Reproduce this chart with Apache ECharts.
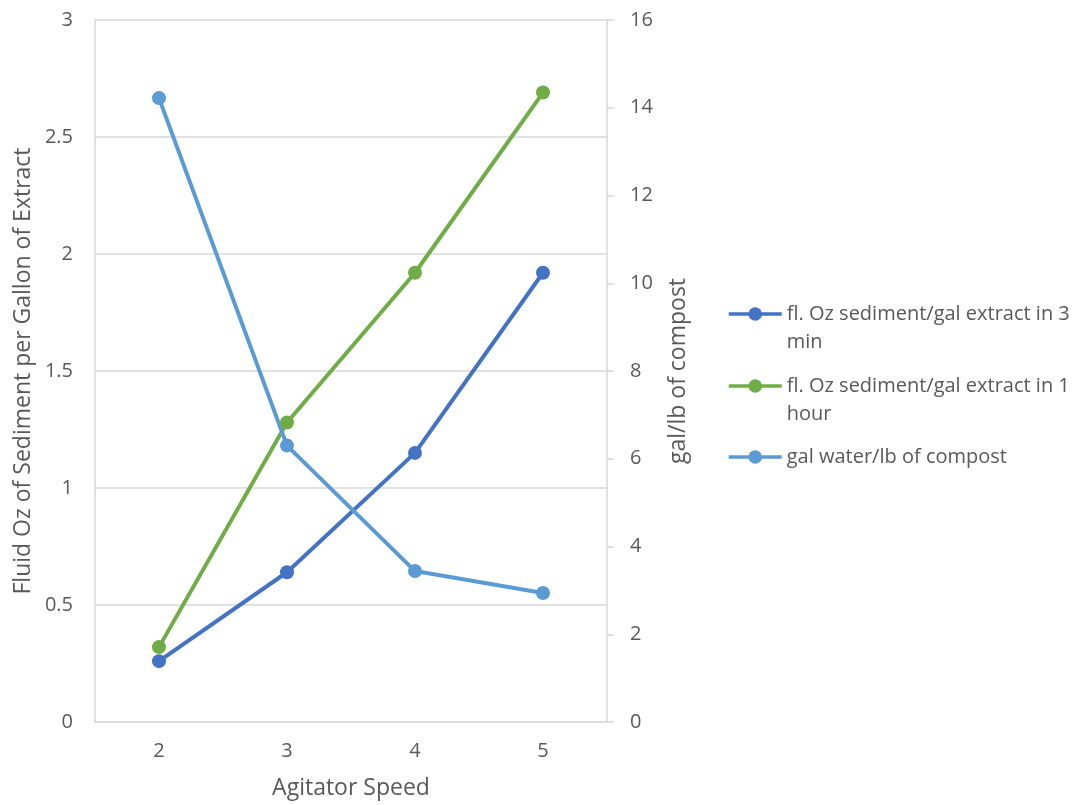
<!DOCTYPE html>
<html>
<head>
<meta charset="utf-8">
<script src="https://cdn.jsdelivr.net/npm/echarts@6/dist/echarts.min.js"></script>
<style>
html,body{margin:0;padding:0;background:#fff;}
#chart{width:1080px;height:805px;}
</style>
</head>
<body>
<div id="chart"></div>
<script>
const categories = ['2', '3', '4', '5'];
const sediment3min = [0.26, 0.64, 1.15, 1.92];
const sediment1hour = [0.32, 1.28, 1.92, 2.69];
const galWaterPerLb = [14.22, 6.30, 3.44, 2.94];
const seriesNames = [
  'fl. Oz sediment/gal extract in 3 min',
  'fl. Oz sediment/gal extract in 1 hour',
  'gal water/lb of compost'
];
const legendLabels = [
  '\nfl. Oz sediment/gal extract in 3\nmin',
  '\nfl. Oz sediment/gal extract in 1\nhour',
  '\ngal water/lb of compost\n'
];
const colors = ['#4472C4', '#70AD47', '#5B9BD5'];
const FONT = 'Open Sans';
const TXT = '#595959';
const GRID = '#d9d9d9';

const chart = echarts.init(document.getElementById('chart'), null, {renderer: 'canvas'});

function makeLegend(i, top) {
  return {
    data: [seriesNames[i]],
    left: 727,
    top: top,
    orient: 'vertical',
    itemWidth: 53,
    itemHeight: 17,
    itemGap: 0,
    padding: 0,
    lineStyle: {width: 3.5},
    formatter: () => legendLabels[i],
    textStyle: {fontFamily: FONT, fontSize: 20, color: TXT, lineHeight: 28}
  };
}

function lineSeries(i, data, yIdx) {
  return {
    name: seriesNames[i],
    type: 'line',
    yAxisIndex: yIdx,
    data: data,
    symbol: 'circle',
    symbolSize: 14,
    color: colors[i],
    lineStyle: {width: 4, color: colors[i]},
    itemStyle: {color: colors[i]},
    emphasis: {disabled: true},
    animation: false
  };
}

chart.setOption({
  animation: false,
  backgroundColor: '#fff',
  grid: {left: 95, right: 473, top: 20, bottom: 82, containLabel: false},
  legend: [makeLegend(0, 314 - 42), makeLegend(1, 386 - 42), makeLegend(2, 457 - 42)],
  xAxis: {
    type: 'category',
    data: categories,
    boundaryGap: true,
    name: 'Agitator Speed',
    nameLocation: 'middle',
    nameGap: 55,
    nameTextStyle: {fontFamily: FONT, fontSize: 23, color: TXT},
    axisLine: {show: true, lineStyle: {color: GRID, width: 1.5}},
    axisTick: {show: false},
    axisLabel: {fontFamily: FONT, fontSize: 20, color: TXT, margin: 19}
  },
  yAxis: [
    {
      type: 'value',
      min: 0, max: 3, interval: 0.5,
      position: 'left',
      name: 'Fluid Oz of Sediment per Gallon of Extract',
      nameLocation: 'middle',
      nameRotate: 90,
      nameGap: 60,
      nameTextStyle: {fontFamily: FONT, fontSize: 23, color: TXT},
      axisLine: {show: true, lineStyle: {color: GRID, width: 1.5}},
      axisTick: {show: false},
      splitLine: {show: true, lineStyle: {color: GRID, width: 1.5}},
      axisLabel: {fontFamily: FONT, fontSize: 20, color: TXT, margin: 22}
    },
    {
      type: 'value',
      min: 0, max: 16, interval: 2,
      position: 'right',
      name: 'gal/lb of compost',
      nameLocation: 'middle',
      nameRotate: 90,
      nameGap: 60,
      nameTextStyle: {fontFamily: FONT, fontSize: 23, color: TXT},
      axisLine: {show: true, lineStyle: {color: GRID, width: 1.5}},
      axisTick: {show: true, length: 7, lineStyle: {color: GRID, width: 1.5}},
      splitLine: {show: false},
      axisLabel: {fontFamily: FONT, fontSize: 20, color: TXT, margin: 23}
    }
  ],
  series: [
    lineSeries(0, sediment3min, 0),
    lineSeries(1, sediment1hour, 0),
    lineSeries(2, galWaterPerLb, 1)
  ]
});
</script>
</body>
</html>
